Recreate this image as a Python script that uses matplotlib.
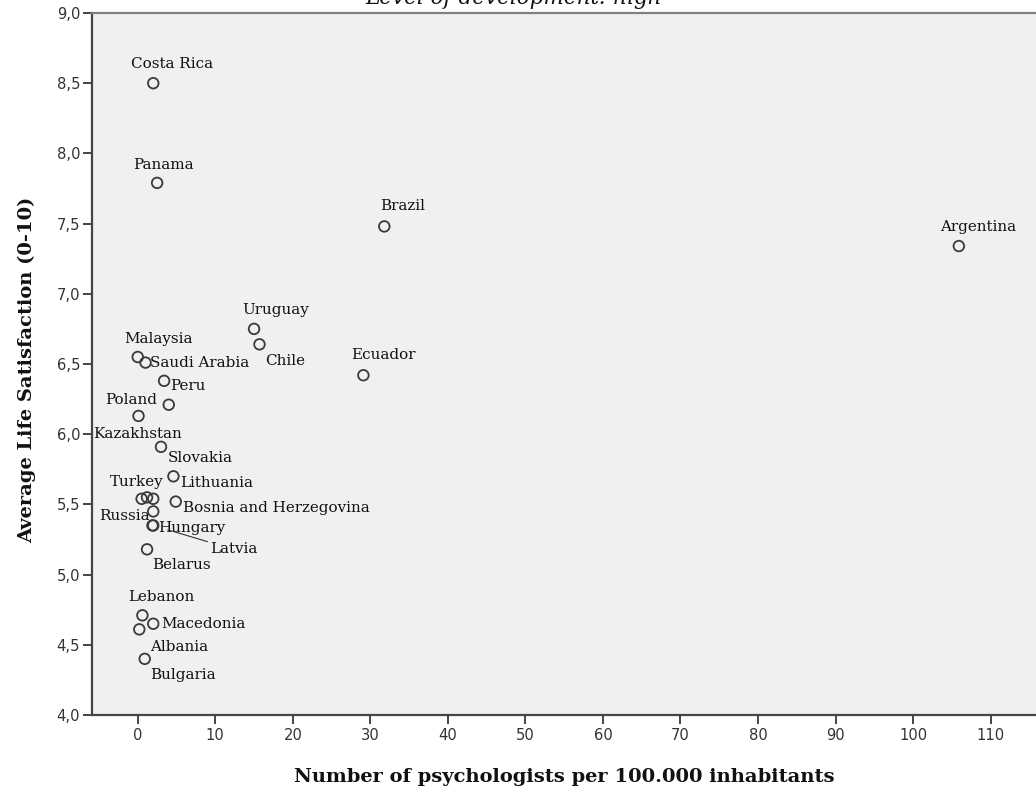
import matplotlib
matplotlib.use("Agg")
import matplotlib.pyplot as plt
from matplotlib.ticker import FuncFormatter

# ---- data ----
countries = ["Costa Rica", "Panama", "Brazil", "Argentina", "Uruguay", "Chile",
             "Ecuador", "Malaysia", "Saudi Arabia", "Peru", "Poland", "Kazakhstan",
             "Slovakia", "Lithuania", "Turkey", "", "", "Bosnia and Herzegovina",
             "Russia", "Hungary", "Latvia", "Belarus", "Lebanon", "Macedonia",
             "Albania", "Bulgaria"]
psychologists = [2.0, 2.5, 31.8, 105.9, 15.0, 15.7,
                 29.1, 0.0, 1.0, 3.4, 4.0, 0.1,
                 3.0, 4.6, 0.5, 1.2, 2.0, 4.9,
                 2.0, 1.9, 2.0, 1.2, 0.6, 2.0,
                 0.2, 0.9]
life_satisfaction = [8.50, 7.79, 7.48, 7.34, 6.75, 6.64,
                     6.42, 6.55, 6.51, 6.38, 6.21, 6.13,
                     5.91, 5.70, 5.54, 5.55, 5.54, 5.52,
                     5.45, 5.35, 5.35, 5.18, 4.71, 4.65,
                     4.61, 4.40]

x_ticks = list(range(0, 111, 10))
y_ticks = [4.0, 4.5, 5.0, 5.5, 6.0, 6.5, 7.0, 7.5, 8.0, 8.5, 9.0]

title_text = "Level of development: high"
x_label = "Number of psychologists per 100.000 inhabitants"
y_label = "Average Life Satisfaction (0-10)"

# ---- label placement (pixel offsets of label left edge / vertical centre) ----
label_offsets = {
    "Costa Rica": (-22, 19), "Panama": (-24, 18), "Brazil": (-4, 20),
    "Argentina": (-19, 19), "Uruguay": (-12, 19), "Chile": (6, -17),
    "Ecuador": (-12, 20), "Malaysia": (-14, 18), "Saudi Arabia": (5, 0),
    "Peru": (6, -5), "Poland": (-64, 5), "Kazakhstan": (-45, -18),
    "Slovakia": (7, -11), "Lithuania": (7, -7), "Turkey": (-32, 17),
    "Bosnia and Herzegovina": (7, -6), "Russia": (-54, -5), "Hungary": (6, -3),
    "Latvia": (57, -24), "Belarus": (5, -16), "Lebanon": (-14, 18),
    "Macedonia": (8, 0), "Albania": (11, -18), "Bulgaria": (5, -16),
}

fig = plt.figure(figsize=(10.36, 7.96), dpi=100)
fig.patch.set_facecolor("white")
ax = fig.add_axes([92 / 1036, 81 / 796, 944 / 1036, 702 / 796])
ax.set_facecolor("#f0f0f0")

ax.scatter(psychologists, life_satisfaction, s=58, facecolors="none",
           edgecolors="#3a3a3a", linewidths=1.3, zorder=3, clip_on=False)

label_font = dict(family="DejaVu Serif", size=10.9, color="#111111")
for name, xv, yv in zip(countries, psychologists, life_satisfaction):
    if not name:
        continue
    dx, dy = label_offsets[name]
    if name == "Latvia":
        ax.annotate(name, (xv, yv), xytext=(dx, dy), textcoords="offset pixels",
                    ha="left", va="center", zorder=4, **label_font,
                    arrowprops=dict(arrowstyle="-", color="#333333", lw=0.8,
                                    shrinkA=0, shrinkB=11,
                                    relpos=(0.0, 1.0)))
    else:
        ax.annotate(name, (xv, yv), xytext=(dx, dy), textcoords="offset pixels",
                    ha="left", va="center", zorder=4, **label_font)

ax.set_xlim(-5.9, 115.85)
ax.set_ylim(4.0, 9.0)
ax.set_xticks(x_ticks)
ax.set_yticks(y_ticks)
ax.yaxis.set_major_formatter(FuncFormatter(lambda v, p: f"{v:.1f}".replace(".", ",")))
ax.tick_params(axis="both", direction="out", length=6.5, width=1.4,
               color="#444444", labelcolor="#333333", labelsize=10.6)
ax.tick_params(axis="x", pad=3)
ax.tick_params(axis="y", pad=2)
for lab in ax.get_xticklabels() + ax.get_yticklabels():
    lab.set_family("DejaVu Sans")

for side in ("left", "bottom"):
    ax.spines[side].set_color("#444444")
    ax.spines[side].set_linewidth(1.6)
ax.spines["top"].set_color("#808080")
ax.spines["top"].set_linewidth(1.6)
ax.spines["right"].set_visible(False)

fig.text(564 / 1036, 1 - 777 / 796, x_label, ha="center", va="center",
         family="DejaVu Serif", weight="bold", size=14, color="#111111")
fig.text(27 / 1036, 1 - 370 / 796, y_label, ha="center", va="center",
         rotation=90, family="DejaVu Serif", weight="bold", size=14,
         color="#111111")
fig.text(514 / 1036, 1 - 4 / 796, title_text, ha="center", va="baseline",
         family="DejaVu Serif", style="italic", size=15.5, color="#111111")

fig.savefig("out.png", dpi=100, facecolor="white")
